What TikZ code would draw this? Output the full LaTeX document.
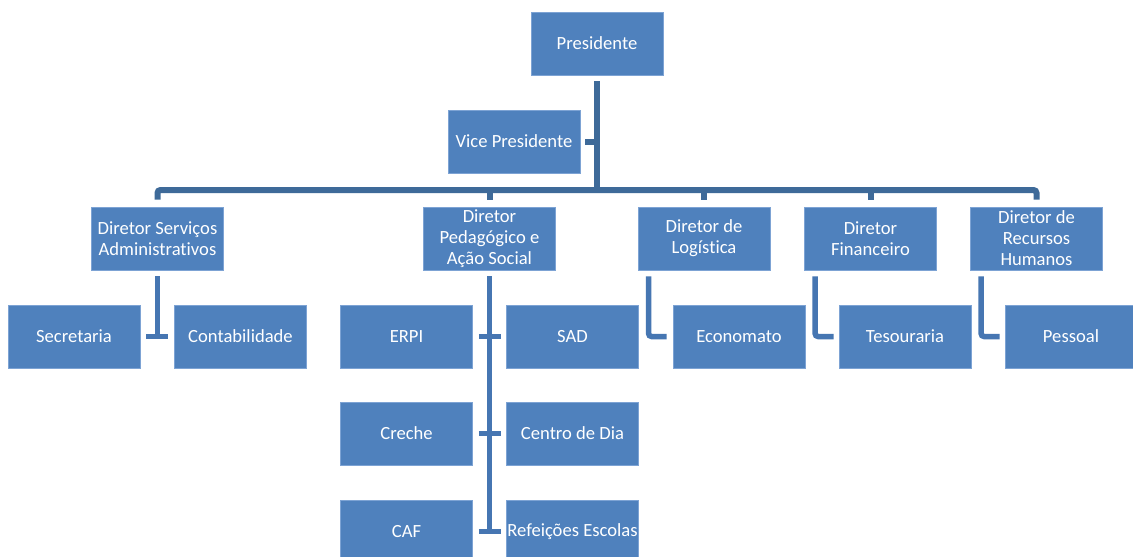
\documentclass[tikz,border=0pt]{standalone}
\usepackage{fontspec}
\setmainfont{Carlito}[Ligatures=NoCommon]
\usetikzlibrary{calc}
\definecolor{boxblue}{RGB}{79,129,189}
\definecolor{boxedge}{RGB}{125,163,212}
\definecolor{topline}{RGB}{62,106,153}
\definecolor{lowline}{RGB}{70,118,178}
\tikzset{
  orgbox/.style={rectangle, fill=boxblue, draw=boxedge, line width=0.8pt,
    minimum width=132pt, minimum height=63pt, inner sep=0pt, align=center,
    text=white, font=\fontsize{18.6}{21}\selectfont},
  topconn/.style={draw=topline, line width=6pt},
  lowconn/.style={draw=lowline, line width=5.5pt},
}
\begin{document}
\begin{tikzpicture}[x=1pt,y=-1pt]
\useasboundingbox[fill=white] (0,0) rectangle (1133,557);
\clip (0,0) rectangle (1133,557);
% level 0/1
\node[orgbox] (pres) at (597,43.5) {Presidente};
\node[orgbox] (vice) at (514,141.5) {Vice Presidente};
% directors
\node[orgbox] (d1) at (157.5,238.5) {Diretor Serviços\\Administrativos};
\node[orgbox] (d2) at (489.5,238.5) {Diretor\\Pedagógico e\\Ação Social};
\node[orgbox] (d3) at (704,238.5) {Diretor de\\Logística};
\node[orgbox] (d4) at (870.5,238.5) {Diretor\\Financeiro};
\node[orgbox] (d5) at (1036.5,238.5) {Diretor de\\Recursos\\Humanos};
% level 3
\node[orgbox] (sec) at (74,336.5) {Secretaria};
\node[orgbox] (cont) at (240.5,336.5) {Contabilidade};
\node[orgbox] (erpi) at (406.5,336.5) {ERPI};
\node[orgbox] (sad) at (572.5,336.5) {SAD};
\node[orgbox] (creche) at (406.5,433.5) {Creche};
\node[orgbox] (centro) at (572.5,433.5) {Centro de Dia};
\node[orgbox] (caf) at (406.5,531.5) {CAF};
\node[orgbox] (refe) at (572.5,531.5) {Refeições Escolas};
\node[orgbox] (econ) at (739,336.5) {Economato};
\node[orgbox] (teso) at (905,336.5) {Tesouraria};
\node[orgbox] (pess) at (1071,336.5) {Pessoal};
% top connectors
\coordinate (bus) at (597,190);
\draw[topconn] ([yshift=-6pt]pres.south) -- (pres.south |- bus);
\draw[topconn] ([xshift=5pt]vice.east) -- (vice.east -| pres.south);
\draw[topconn, rounded corners=3pt] ([yshift=7pt]d1.north) |- (d5.north |- bus) -- ([yshift=7pt]d5.north);
\draw[topconn] ([yshift=7pt]d2.north) -- (d2.north |- bus);
\draw[topconn] ([yshift=7pt]d3.north) -- (d3.north |- bus);
\draw[topconn] ([yshift=7pt]d4.north) -- (d4.north |- bus);
% director 1
\draw[lowconn] ([yshift=-6pt]d1.south) -- (d1.south |- sec.east);
\draw[lowconn] ([xshift=6pt]sec.east) -- ([xshift=-6pt]cont.west);
% director 2
\draw[lowconn] ([yshift=-6pt]d2.south) -- (d2.south |- caf.east);
\draw[lowconn] ([xshift=6pt]erpi.east) -- ([xshift=-5pt]sad.west);
\draw[lowconn] ([xshift=6pt]creche.east) -- ([xshift=-5pt]centro.west);
\draw[lowconn] ([xshift=6pt]caf.east) -- ([xshift=-5pt]refe.west);
% directors 3-5
\draw[lowconn, rounded corners=3pt] ([xshift=11pt,yshift=-6pt]d3.south west) |- ([xshift=-6pt]econ.west);
\draw[lowconn, rounded corners=3pt] ([xshift=11pt,yshift=-6pt]d4.south west) |- ([xshift=-5pt]teso.west);
\draw[lowconn, rounded corners=3pt] ([xshift=11pt,yshift=-6pt]d5.south west) |- ([xshift=-5pt]pess.west);
\end{tikzpicture}
\end{document}
